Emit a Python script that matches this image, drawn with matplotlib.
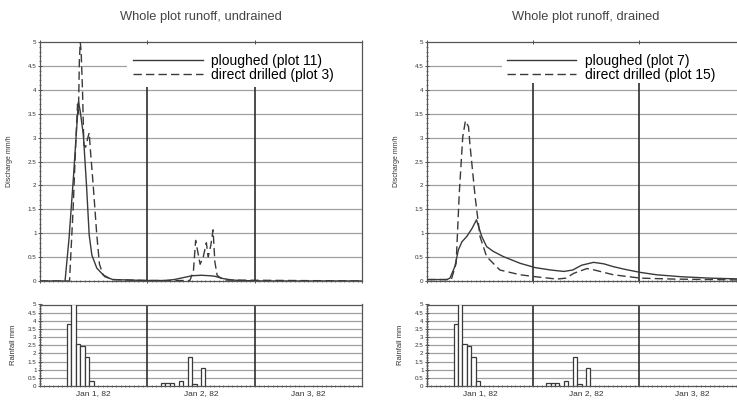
import matplotlib
matplotlib.use("Agg")
import matplotlib.pyplot as plt
from matplotlib.patches import Rectangle
from matplotlib.ticker import MultipleLocator
import numpy as np

plt.rcParams['font.family'] = ['Liberation Sans', 'DejaVu Sans']

# ---------------- data (hours from Jan 1, 82 00:00) ----------------
titles = ["Whole plot runoff, undrained", "Whole plot runoff, drained"]
legend_labels = [["ploughed (plot 11)", "direct drilled (plot 3)"],
                 ["ploughed (plot 7)", "direct drilled (plot 15)"]]
date_labels = ["Jan 1, 82", "Jan 2, 82", "Jan 3, 82"]
yticks_top = [0, 0.5, 1, 1.5, 2, 2.5, 3, 3.5, 4, 4.5, 5]
ytick_labels = ["0", "0.5", "1", "1.5", "2", "2.5", "3", "3.5", "4", "4.5", "5"]

# undrained, ploughed (plot 11)
und_pl_h = [0, 5.6, 6.5, 7.5, 8.2, 8.6, 9.0, 9.7, 10.4, 11.0, 11.6, 12.7, 14.5, 16.3,
            20, 24, 28, 30, 32, 34, 36, 38, 39, 41, 43, 45, 50, 72]
und_pl_v = [0, 0, 0.9, 2.2, 3.2, 3.75, 3.55, 3.05, 2.0, 0.96, 0.54, 0.27, 0.09, 0.03,
            0.02, 0.01, 0.01, 0.03, 0.07, 0.11, 0.12, 0.11, 0.1, 0.05, 0.02, 0.01, 0, 0]
# undrained, direct drilled (plot 3)
und_dd_h = [0, 6.6, 7.4, 8.0, 8.4, 8.6, 8.8, 9.0, 9.2, 9.5, 9.8, 10.2, 10.7, 11.0, 11.3,
            11.9, 12.7, 13.3, 14.1, 16, 24, 33.5, 34.3, 34.8, 35.3, 35.8, 36.5, 37.2,
            37.6, 38.2, 38.7, 39.1, 39.6, 41, 72]
und_dd_v = [0, 0, 1.5, 2.9, 3.7, 3.5, 4.6, 5.0, 4.8, 4.0, 2.85, 2.8, 3.0, 3.1, 2.7,
            2.0, 0.96, 0.35, 0.13, 0.03, 0.01, 0.01, 0.2, 0.85, 0.6, 0.35, 0.5, 0.8,
            0.5, 0.75, 1.07, 0.4, 0.12, 0.02, 0]
# drained, ploughed (plot 7)
dr_pl_h = [0, 4.5, 5.2, 6.3, 7.1, 7.9, 9.0, 10.2, 11.2, 12.4, 13.5, 15, 17.3, 21.1,
           24.5, 28, 31, 33, 35, 37.7, 40, 42.2, 45, 48.3, 52, 57.4, 64, 72]
dr_pl_v = [0.03, 0.03, 0.06, 0.3, 0.65, 0.82, 0.93, 1.1, 1.28, 0.93, 0.72, 0.62, 0.51, 0.37,
           0.28, 0.23, 0.2, 0.23, 0.33, 0.39, 0.36, 0.3, 0.24, 0.18, 0.13, 0.09, 0.06, 0.04]
# drained, direct drilled (plot 15)
dr_dd_h = [0, 5.5, 6.6, 7.3, 8.1, 8.7, 9.4, 9.7, 10.9, 12.0, 13.5, 16.5, 21.1, 24.5,
           29.4, 31.5, 33.2, 36.2, 37.9, 42.2, 48.3, 56, 72]
dr_dd_v = [0.03, 0.03, 0.37, 1.83, 3.02, 3.35, 3.23, 2.88, 1.76, 0.93, 0.51, 0.23, 0.13, 0.09,
           0.04, 0.06, 0.16, 0.26, 0.23, 0.13, 0.06, 0.04, 0.02]

# hourly rainfall (bar starts at given hour)
rain_h = [6, 7, 8, 9, 10, 11, 27, 28, 29, 31, 33, 34, 36]
rain_v = [3.8, 5.0, 2.6, 2.45, 1.75, 0.3, 0.2, 0.2, 0.2, 0.3, 1.8, 0.1, 1.1]

# ---------------- figure ----------------
W, H = 737, 403
fig = plt.figure(figsize=(W / 100, H / 100), dpi=100)

def fx(px):
    return px / W

def fy(py):
    return 1 - py / H

panels = [
    dict(x0=40, x1=362, curves=(und_pl_h, und_pl_v, und_dd_h, und_dd_v),
         leg_x=0.289, box_x=0.27, box_y=0.81),
    dict(x0=427, x1=745, curves=(dr_pl_h, dr_pl_v, dr_dd_h, dr_dd_v),
         leg_x=0.2516, box_x=0.236, box_y=0.83),
]

line_col = '#3a3a3a'
grid_col = '#a0a0a0'
vline_col = '#2e2e2e'
spine_col = '#555555'

def style_axes(ax):
    ax.set_xlim(0, 72)
    ax.set_ylim(0, 5)
    for s in ax.spines.values():
        s.set_color(spine_col)
        s.set_linewidth(0.9)
    for y in yticks_top[1:-1]:
        ax.axhline(y, color=grid_col, lw=0.9, zorder=1)
    for d in (24, 48):
        ax.axvline(d, color=vline_col, lw=1.2, zorder=1.2)
    ax.set_yticks(yticks_top, ytick_labels)
    ax.yaxis.set_minor_locator(MultipleLocator(0.1))
    ax.xaxis.set_minor_locator(MultipleLocator(1))
    ax.tick_params(axis='y', which='major', labelsize=4.5, length=3, width=0.6,
                   direction='inout', pad=1, colors='#333333')
    ax.tick_params(axis='y', which='minor', length=1.5, width=0.5, direction='inout',
                   colors='#555555')
    ax.tick_params(axis='x', which='minor', length=1.5, width=0.5, direction='inout',
                   colors='#555555')

for i, p in enumerate(panels):
    left = fx(p['x0'])
    width = fx(p['x1'] - p['x0'])
    # ---- runoff panel
    ax = fig.add_axes([left, fy(281), width, fy(42) - fy(281)])
    style_axes(ax)
    ax.set_xticks([0, 24, 48, 72], [])
    ax.tick_params(axis='x', which='major', length=3, width=0.6, direction='inout',
                   top=True, colors='#333333')
    ax.add_patch(Rectangle((p['box_x'], p['box_y']), 1 - p['box_x'], 1 - p['box_y'],
                           transform=ax.transAxes, facecolor='white', edgecolor='none',
                           zorder=1.5))
    hp, vp, hd, vd = p['curves']
    ax.plot(hp, vp, color=line_col, lw=1.0, zorder=3, label=legend_labels[i][0])
    ax.plot(hd, vd, color=line_col, lw=1.0, dashes=(6, 3), zorder=3,
            label=legend_labels[i][1])
    ax.legend(loc='upper left', bbox_to_anchor=(p['leg_x'], 0.95), frameon=False,
              fontsize=10, handlelength=5.0, handletextpad=0.6, borderpad=0,
              borderaxespad=0, labelspacing=0.0)
    ax.set_ylabel("Discharge mm/h", fontsize=5, color='#333333')
    ax.yaxis.set_label_coords(-0.085, 0.5)
    fig.text(left + width / 2, fy(17), titles[i], ha='center', va='center',
             fontsize=9.3, color='#444444')

    # ---- rainfall panel
    axr = fig.add_axes([left, fy(386), width, fy(304.5) - fy(386)])
    style_axes(axr)
    axr.bar(rain_h, rain_v, width=1.0, align='edge', facecolor='white',
            edgecolor='#3a3a3a', lw=0.9, zorder=3)
    axr.set_xticks([12, 36, 60], date_labels)
    axr.tick_params(axis='x', which='major', length=0, labelsize=6, pad=3,
                    labelcolor='#333333')
    axr.set_ylabel("Rainfall mm", fontsize=5.5, color='#333333')
    axr.yaxis.set_label_coords(-0.072, 0.5)

fig.savefig("out.png", dpi=100)
